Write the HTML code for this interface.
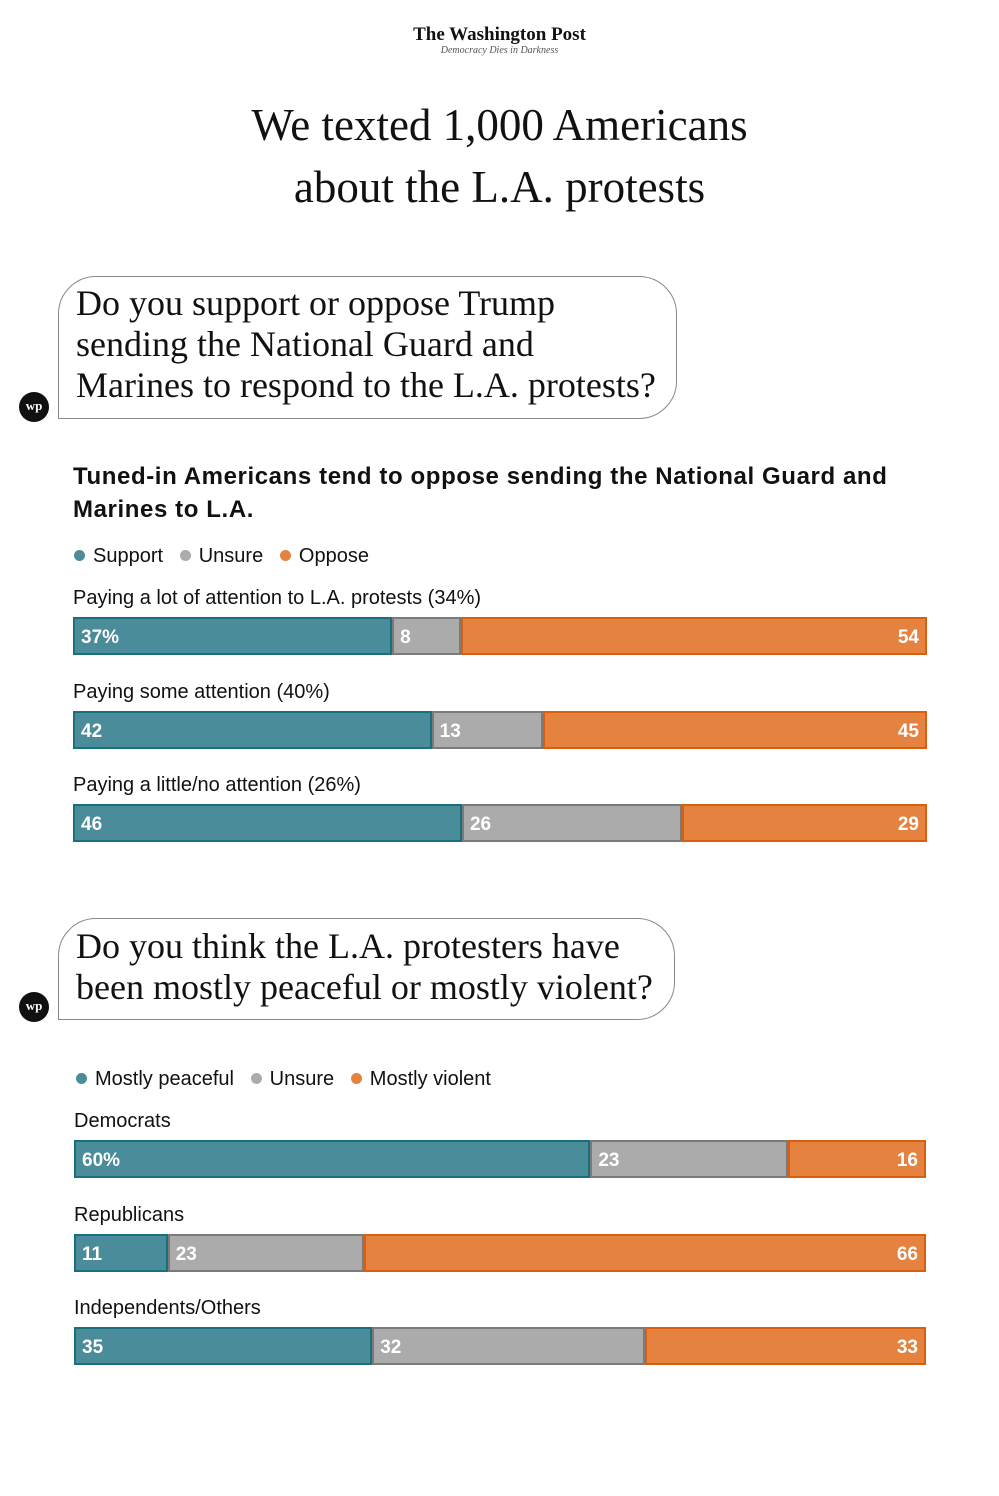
<!DOCTYPE html>
<html><head><meta charset="utf-8"><style>
body{margin:0;width:999px;height:1496px;background:#fff;position:relative;font-family:"Liberation Sans",sans-serif;color:#111;overflow:hidden}
.abs{position:absolute}
.serif{font-family:"Liberation Serif",serif}
.bubble{position:absolute;border:1.5px solid #888;border-radius:38px 38px 38px 0;background:#fff}
.logo{position:absolute;width:30px;height:30px;border-radius:50%;background:#111;color:#fff;font:bold 13px "Liberation Serif",serif;text-align:center;line-height:28px}
.leg{position:absolute;font-size:20px}
.dot{display:inline-block;width:11px;height:11px;border-radius:50%;margin-right:8px;vertical-align:1px}
.lbl{position:absolute;font-size:20px}
.seg{position:absolute;box-sizing:border-box;border:2.5px solid;color:#fff;font-weight:bold;font-size:19px;line-height:37px;padding:0 6px}
</style></head><body>
<div class="abs serif" style="left:0;width:999px;top:24px;text-align:center;font-weight:bold;font-size:19px">The Washington Post</div>
<div class="abs serif" style="left:0;width:999px;top:45px;text-align:center;font-style:italic;font-size:10px;color:#555">Democracy Dies in Darkness</div>
<div class="abs serif" style="left:0;width:999px;top:94px;text-align:center;font-size:45px;line-height:62px">We texted 1,000 Americans<br>about the L.A. protests</div>

<div class="bubble" style="left:58px;top:276px;width:617px;height:141px"></div>
<div class="abs serif" style="left:76px;top:283px;font-size:36px;line-height:41px">Do you support or oppose Trump<br>sending the National Guard and<br>Marines to respond to the L.A. protests?</div>
<div class="logo" style="left:19px;top:392px">wp</div>

<div class="abs" style="left:73px;top:460px;font-size:24px;font-weight:bold;line-height:33px;letter-spacing:0.6px">Tuned-in Americans tend to oppose sending the National Guard and<br>Marines to L.A.</div>
<div class="leg" style="left:74px;top:545px"><span><span class="dot" style="background:#4a8c99"></span>Support</span>&nbsp;&nbsp;&nbsp;<span><span class="dot" style="background:#ababab"></span>Unsure</span>&nbsp;&nbsp;&nbsp;<span><span class="dot" style="background:#e5823f"></span>Oppose</span></div>

<div class="bubble" style="left:58px;top:918px;width:615px;height:100px"></div>
<div class="abs serif" style="left:76px;top:926px;font-size:36px;line-height:41px">Do you think the L.A. protesters have<br>been mostly peaceful or mostly violent?</div>
<div class="logo" style="left:19px;top:992px">wp</div>

<div class="leg" style="left:76px;top:1068px"><span><span class="dot" style="background:#4a8c99"></span>Mostly peaceful</span>&nbsp;&nbsp;&nbsp;<span><span class="dot" style="background:#ababab"></span>Unsure</span>&nbsp;&nbsp;&nbsp;<span><span class="dot" style="background:#e5823f"></span>Mostly violent</span></div>

<div id="c1"></div>
<div id="c2"></div>
<script>
const cats1 = ["Paying a lot of attention to L.A. protests (34%)","Paying some attention (40%)","Paying a little/no attention (26%)"];
const support1 = [37,42,46];
const unsure1 = [8,13,26];
const oppose1 = [54,45,29];
const cats2 = ["Democrats","Republicans","Independents/Others"];
const peaceful2 = [60,11,35];
const unsure2 = [23,23,32];
const violent2 = [16,66,33];
const styles=[["#4a8c99","#176f80"],["#ababab","#7a7a7a"],["#e5823f","#d95f0e"]];
function draw(host,cats,series,x0,x1,yLbl0,yBar0,step,pct){
  const el=document.getElementById(host);
  cats.forEach((c,i)=>{
    const l=document.createElement('div');
    l.className='lbl';
    
    
    l.style.left=x0+'px';l.style.top=(yLbl0+i*step)+'px';l.textContent=c;el.appendChild(l);
    const vals=series.map(s=>s[i]);const tot=vals.reduce((a,b)=>a+b,0);
    let acc=0;
    vals.forEach((v,k)=>{
      const s=document.createElement('div');
      s.className='seg';
      
      
      const xa=x0+(x1-x0)*acc/tot, xb=x0+(x1-x0)*(acc+v)/tot;
      s.style.left=xa+'px';s.style.width=(xb-xa)+'px';s.style.top=(yBar0+i*step)+'px';s.style.height='38px';
      s.style.background=styles[k][0];s.style.borderColor=styles[k][1];
      if(k==2)s.style.textAlign='right';
      s.textContent=v+(pct&&i==0&&k==0?'%':'');
      el.appendChild(s);acc+=v;
    });
  });
}
draw('c1',cats1,[support1,unsure1,oppose1],73,927,587,617,93.5,true);
draw('c2',cats2,[peaceful2,unsure2,violent2],74,926,1110,1140,93.5,true);
</script>
</body></html>
